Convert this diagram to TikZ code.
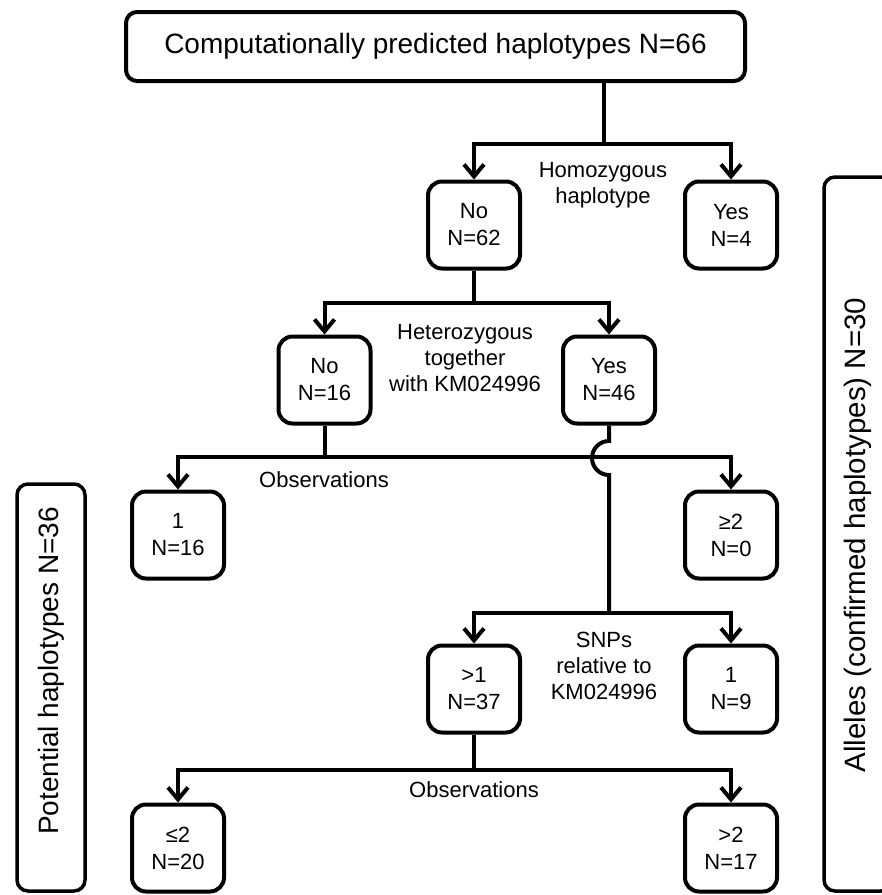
\documentclass[tikz,border=0pt]{standalone}
\usepackage{fontspec}
\setmainfont{Liberation Sans}
\usetikzlibrary{arrows.meta}
\begin{document}
\begin{tikzpicture}[x=1pt,y=-1pt,
  every node/.style={font=\fontsize{22}{27}\selectfont, align=center, inner sep=0pt},
  box/.style={draw, line width=4pt, rounded corners=14pt, minimum width=92pt, minimum height=87pt},
  topbox/.style={draw, line width=4pt, rounded corners=11pt, minimum width=619pt, minimum height=69pt, font=\fontsize{28}{32}\selectfont},
  sidebox/.style={draw, line width=3.5pt, rounded corners=11pt},
  sidetext/.style={rotate=90, font=\fontsize{28}{32}\selectfont},
  lbl/.style={font=\fontsize{22}{26}\selectfont},
  conn/.style={line width=4pt},
  arr/.style={line width=4pt, -{Straight Barb[length=12pt,width=20pt]}}
]
\path[use as bounding box, clip] (0,0) rectangle (882,895);

% nodes
\node[topbox] (top) at (435.5,46.5) {Computationally predicted haplotypes N=66};
\node[box] (no1) at (474,225) {No\\N=62};
\node[box] (yes1) at (731,225) {Yes\\N=4};
\node[box] (no2) at (324.5,380) {No\\N=16};
\node[box] (yes2) at (609,380) {Yes\\N=46};
\node[box] (obs1) at (178,535) {1\\N=16};
\node[box] (ge2) at (731,535) {≥2\\N=0};
\node[box] (gt1) at (474,689) {>1\\N=37};
\node[box] (one) at (731,689) {1\\N=9};
\node[box] (le2) at (178,848) {≤2\\N=20};
\node[box] (gt2) at (731,848) {>2\\N=17};

% side groups
\draw[sidebox] (17,484) rectangle (85,891);
\node[sidetext] (pot) at (51,671) {Potential haplotypes N=36};
\draw[sidebox] (824,177) rectangle (892,891);
\node[sidetext, font=\fontsize{29.5}{32}\selectfont] (all) at (858,535) {Alleles (confirmed haplotypes) N=30};

% labels
\node[lbl] (l1) at (603,185) {Homozygous\\haplotype};
\node[lbl] (l2) at (465,358) {Heterozygous\\together\\with KM024996};
\node[lbl] (l3) at (324,480) {Observations};
\node[lbl] (l4) at (604,666) {SNPs\\relative to\\KM024996};
\node[lbl] (l5) at (474,790) {Observations};

% junctions
\coordinate (j0) at (604,144);
\coordinate (j1) at (474,303);
\coordinate (j2) at (324.5,457);
\coordinate (hop) at (609,441);
\coordinate (j3) at (609,613);
\coordinate (j4) at (474,770);

% connectors
\draw[conn] (j0 |- top.south) -- (j0);
\draw[arr] (j0) -| (no1.north);
\draw[arr] (j0) -| (yes1.north);

\draw[conn] (no1.south) -- (j1);
\draw[arr] (j1) -| (no2.north);
\draw[arr] (j1) -| (yes2.north);

\draw[conn] (no2.south) -- (j2);
\draw[arr] (j2) -| (obs1.north);
\draw[arr] (j2) -| (ge2.north);

\draw[conn] (yes2.south) -- (hop) arc[start angle=90, end angle=270, radius=17pt] -- (j3);
\draw[arr] (j3) -| (gt1.north);
\draw[arr] (j3) -| (one.north);

\draw[conn] (gt1.south) -- (j4);
\draw[arr] (j4) -| (le2.north);
\draw[arr] (j4) -| (gt2.north);
\end{tikzpicture}
\end{document}
